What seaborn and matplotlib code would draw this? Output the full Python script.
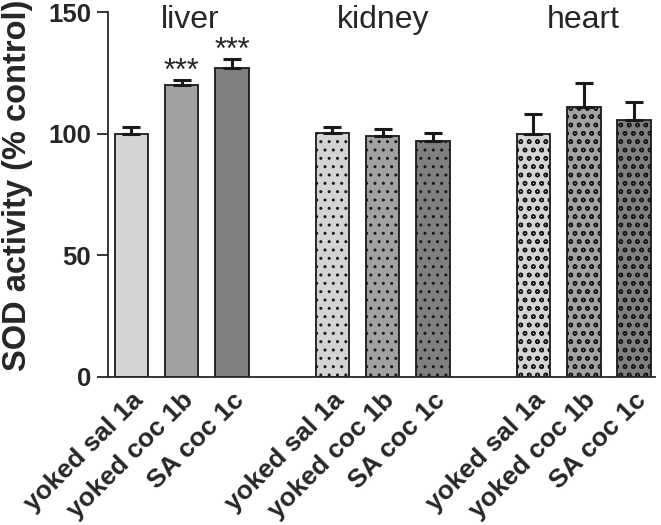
import numpy as np
import pandas as pd
import matplotlib
matplotlib.use("Agg")
import matplotlib.pyplot as plt
import seaborn as sns

# data
organs = ["liver", "kidney", "heart"]
treatments = ["yoked sal 1a", "yoked coc 1b", "SA coc 1c"]
liver_mean = [100.0, 120.2, 126.9]
liver_sem = [2.9, 1.9, 3.7]
kidney_mean = [100.1, 99.2, 97.2]
kidney_sem = [2.7, 2.6, 3.1]
heart_mean = [100.0, 110.8, 105.5]
heart_sem = [8.1, 10.0, 7.4]
signif = ["", "***", "***"]

treat_colors = {"yoked sal 1a": "#d4d4d4", "yoked coc 1b": "#a2a2a2", "SA coc 1c": "#808080"}
organ_hatch = {"liver": "", "kidney": "..", "heart": "oo"}

rows = []
for gi, (org, means, sems) in enumerate(zip(organs,
                                          [liver_mean, kidney_mean, heart_mean],
                                          [liver_sem, kidney_sem, heart_sem])):
    for ti, tr in enumerate(treatments):
        rows.append({"organ": org, "treatment": tr, "pos": gi * 4 + ti,
                     "value": means[ti], "sem": sems[ti]})
df = pd.DataFrame(rows)

sns.set_style("ticks")
plt.rcParams["font.family"] = ["Liberation Sans", "DejaVu Sans"]
plt.rcParams["hatch.linewidth"] = 1.0
plt.rcParams["hatch.color"] = "#222222"

fig = plt.figure(figsize=(6.61, 5.25), dpi=100)
ax = fig.add_axes([0.163, 0.282, 0.828, 0.695])

sns.barplot(data=df, x="pos", y="value", hue="treatment", palette=treat_colors,
            native_scale=True, dodge=False, width=0.67, errorbar=None,
            edgecolor="#1a1a1a", linewidth=1.3, legend=False, ax=ax)

# hatch per organ
for p in ax.patches:
    cx = p.get_x() + p.get_width() / 2
    org = organs[int(round(cx)) // 4]
    p.set_hatch(organ_hatch[org])

# one-sided error bars
ax.errorbar(df["pos"], df["value"], yerr=[np.zeros(len(df)), df["sem"]],
            fmt="none", ecolor="#1a1a1a", elinewidth=2.2, capsize=6.5, capthick=2.2)

# significance stars
liver = df[df["organ"] == "liver"]
for (_, r), s in zip(liver.iterrows(), signif):
    if s:
        ax.text(r["pos"], r["value"] + r["sem"] + 0.2, s, ha="center", va="baseline",
                fontsize=22)

label_x = [1.18, 5, 9]
for org, lx in zip(organs, label_x):
    ax.text(lx, 143.4, org, ha="center", va="baseline", fontsize=23)

ax.set_xlim(-0.47, 10.42)
ax.set_ylim(0, 150)
ax.set_yticks([0, 50, 100, 150])
ax.set_xticks(df["pos"])
ax.set_xticklabels(df["treatment"], rotation=45, ha="right", rotation_mode="anchor",
                   fontsize=19, fontweight="bold")
ax.tick_params(axis="x", length=0, pad=8)
ax.tick_params(axis="y", length=8, width=1.3, labelsize=18.5, pad=4)
for lab in ax.get_yticklabels():
    lab.set_fontweight("bold")
ax.set_xlabel("")
ax.set_ylabel("SOD activity (% control)", fontsize=23.5, fontweight="bold")
ax.yaxis.set_label_coords(-0.137, 0.526)
sns.despine(ax=ax)
ax.spines["left"].set_linewidth(1.3)
ax.spines["bottom"].set_linewidth(1.3)

fig.savefig("out.png", dpi=100)
